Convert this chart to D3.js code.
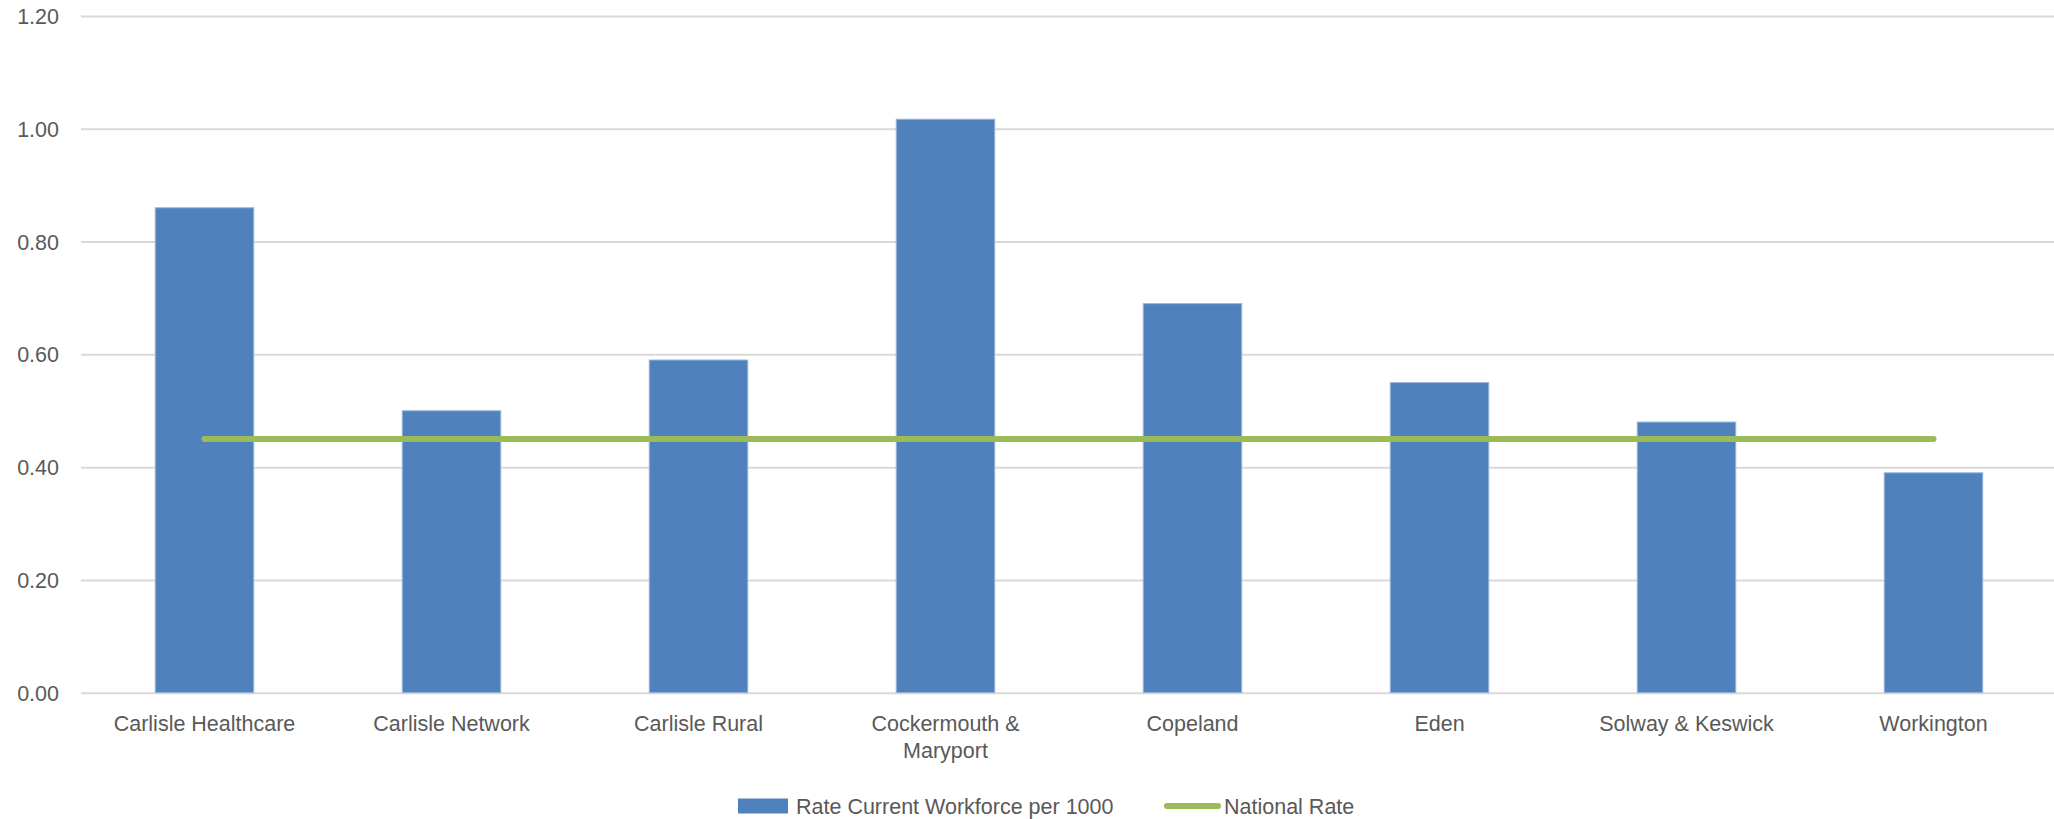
<!DOCTYPE html>
<html>
<head>
<meta charset="utf-8">
<script src="https://cdn.jsdelivr.net/npm/d3@7"></script>
<style>
  html, body { margin: 0; padding: 0; background: #ffffff; }
  svg { display: block; }
  text { font-family: "Liberation Sans", Arial, sans-serif; fill: #595959; }
</style>
</head>
<body>
<svg id="chart" width="2054" height="819"></svg>
<script>
const categories = ["Carlisle Healthcare", "Carlisle Network", "Carlisle Rural", "Cockermouth & Maryport", "Copeland", "Eden", "Solway & Keswick", "Workington"];
const workforceRate = [0.86, 0.50, 0.59, 1.017, 0.69, 0.55, 0.48, 0.39];
const nationalRate = [0.45, 0.45, 0.45, 0.45, 0.45, 0.45, 0.45, 0.45];
const yTicks = [0, 0.2, 0.4, 0.6, 0.8, 1.0, 1.2];
const seriesNames = ["Rate Current Workforce per 1000", "National Rate"];

const W = 2054, H = 819;
const svg = d3.select("#chart");
const margin = { left: 81, top: 16, bottom: 692.7, right: 2057 };

const x = d3.scaleBand().domain(categories).range([margin.left, margin.right])
  .paddingInner(0.601).paddingOuter(0.3005);
const y = d3.scaleLinear().domain([0, 1.2]).range([margin.bottom, margin.top]);

// gridlines
const yAxis = d3.axisLeft(y).tickValues(yTicks).tickFormat(d3.format(".2f"))
  .tickSize(-(margin.right - margin.left)).tickPadding(22);
const gy = svg.append("g").attr("transform", `translate(${margin.left},0)`).call(yAxis);
gy.select(".domain").remove();
gy.selectAll(".tick line").attr("stroke", "#d9d9d9").attr("stroke-width", 2);
gy.selectAll(".tick text").attr("font-size", "21.5px").attr("fill", "#595959")
  .attr("font-family", "Liberation Sans, Arial, sans-serif").attr("dy", "0.35em");

// bars
svg.append("g").selectAll("rect").data(categories).join("rect")
  .attr("x", d => x(d))
  .attr("width", x.bandwidth())
  .attr("y", (d, i) => y(workforceRate[i]))
  .attr("height", (d, i) => y(0) - y(workforceRate[i]))
  .attr("fill", "#4f81bd")
  .attr("stroke", "#9db8dc")
  .attr("stroke-width", 1);

// national rate line
const line = d3.line().x((d, i) => x(categories[i]) + x.bandwidth() / 2).y(d => y(d));
svg.append("path").datum(nationalRate).attr("d", line)
  .attr("fill", "none").attr("stroke", "#9bbb59").attr("stroke-width", 6)
  .attr("stroke-linecap", "round");

// x axis labels
const xAxis = d3.axisBottom(x).tickSize(0).tickPadding(0);
const gx = svg.append("g").attr("transform", `translate(0,${y(0)})`).call(xAxis);
gx.select(".domain").remove();
gx.selectAll(".tick text")
  .attr("font-size", "21.5px").attr("fill", "#595959")
  .attr("font-family", "Liberation Sans, Arial, sans-serif")
  .attr("y", 38).attr("dy", 0)
  .each(function(d) {
    const t = d3.select(this);
    const maxW = 195;
    if (this.getComputedTextLength() > maxW) {
      const words = d.split(" ");
      let lines = [], cur = [];
      t.text("");
      words.forEach(w => {
        const test = cur.concat([w]).join(" ");
        t.text(test);
        if (this.getComputedTextLength() > maxW && cur.length) {
          lines.push(cur.join(" "));
          cur = [w];
        } else {
          cur.push(w);
        }
      });
      lines.push(cur.join(" "));
      t.text("");
      lines.forEach((l, k) => {
        t.append("tspan").attr("x", 0).attr("y", 38 + k * 27.3).text(l);
      });
    }
  });

// legend
const lg = svg.append("g");
const legY = 806;
lg.append("rect").attr("x", 738).attr("y", legY - 7.5).attr("width", 50).attr("height", 15)
  .attr("fill", "#4f81bd");
lg.append("text").attr("x", 796).attr("y", legY).attr("dy", "0.35em")
  .attr("font-size", "21.5px").text(seriesNames[0]);
lg.append("line").attr("x1", 1167).attr("x2", 1218).attr("y1", legY).attr("y2", legY)
  .attr("stroke", "#9bbb59").attr("stroke-width", 6).attr("stroke-linecap", "round");
lg.append("text").attr("x", 1224).attr("y", legY).attr("dy", "0.35em")
  .attr("font-size", "21.5px").text(seriesNames[1]);
</script>
</body>
</html>
